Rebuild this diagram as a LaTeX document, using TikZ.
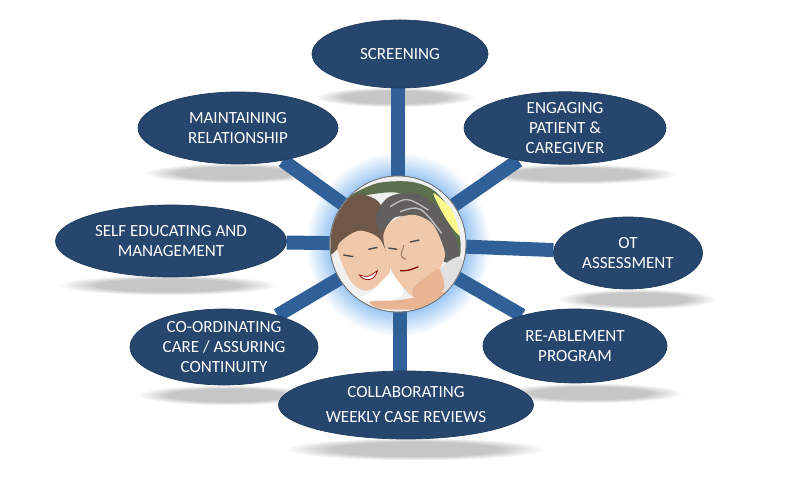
\documentclass[tikz,border=0pt]{standalone}
\usepackage{fontspec}
\setmainfont{Carlito}
\usetikzlibrary{shapes.geometric,fadings}
\definecolor{spotblue}{RGB}{38,70,109}
\definecolor{spokeblue}{RGB}{48,96,152}
\definecolor{glowblue}{RGB}{150,195,242}
\definecolor{shadowgray}{RGB}{198,198,198}
\definecolor{skinlight}{RGB}{240,200,170}
\definecolor{skinwarm}{RGB}{232,180,145}
\definecolor{hairbrown}{RGB}{112,88,72}
\definecolor{hairgray}{RGB}{98,96,94}
\definecolor{leafgreen}{RGB}{92,112,78}
\pgfdeclareradialshading{glowshade}{\pgfpointorigin}{color(0bp)=(glowblue); color(18bp)=(glowblue); color(25bp)=(white); color(50bp)=(white)}
\pgfdeclareradialshading{softshade}{\pgfpointorigin}{color(0bp)=(white); color(16bp)=(white); color(25bp)=(black); color(50bp)=(black)}
\pgfdeclarefading{softblur}{\pgfuseshading{softshade}}
\pgfdeclarelayer{shadows}
\pgfdeclarelayer{spokes}
\pgfsetlayers{shadows,spokes,main}
\tikzset{
	spot/.style 2 args={%
		draw=spotblue!85!black, ellipse, fill=spotblue, inner sep=0pt,
		minimum width=#1, minimum height=#2,
		align=center, text=white,
		font=\fontsize{9.7}{11.4}\selectfont
	},
	ground/.style 2 args={%
		fill=shadowgray, path fading=softblur,
		minimum width=#1, minimum height=#2, inner sep=0pt
	},
	spoke/.style={draw=spokeblue, line width=0.28cm}
}

\begin{document}
\begin{tikzpicture}
		\useasboundingbox (0,0) rectangle (15.72,9.58);
		
		% shadows under the ellipses
		\begin{pgfonlayer}{shadows}
		\node[ground={3.2cm}{0.4cm}] (sh1) at (7.9,7.64) {};
		\node[ground={3.6cm}{0.4cm}] (sh2) at (4.7,6.12) {};
		\node[ground={4.1cm}{0.4cm}] (sh3) at (11.5,6.1) {};
		\node[ground={4.4cm}{0.4cm}] (sh4) at (3.36,3.88) {};
		\node[ground={3.2cm}{0.4cm}] (sh5) at (12.74,3.6) {};
		\node[ground={3.6cm}{0.4cm}] (sh6) at (4.54,1.68) {};
		\node[ground={3.7cm}{0.4cm}] (sh7) at (11.8,1.72) {};
		\node[ground={5.2cm}{0.45cm}] (sh8) at (8.3,0.6) {};
		\node[circle,minimum size=3.7cm,inner sep=0pt,shading=glowshade] (glow) at (7.96,4.7) {};
		\end{pgfonlayer}
		
		% the ellipses
		\node[spot={3.52cm}{1.36cm}] (screening) at (8.0,8.5) {SCREENING};
		\node[spot={4cm}{1.44cm}] (relationship) at (4.76,7.02) {MAINTAINING\\RELATIONSHIP};
		\node[spot={4.04cm}{1.44cm}] (engaging) at (11.3,7.02) {ENGAGING\\PATIENT \&\\CAREGIVER};
		\node[spot={4.62cm}{1.44cm}] (selfedu) at (3.42,4.76) {SELF EDUCATING AND\\MANAGEMENT};
		\node[spot={2.98cm}{1.44cm}] (ot) at (12.56,4.52) {OT\\ASSESSMENT};
		\node[spot={3.76cm}{1.52cm}] (coordinating) at (4.48,2.64) {CO-ORDINATING\\CARE / ASSURING\\CONTINUITY};
		\node[spot={3.68cm}{1.48cm}] (reablement) at (11.5,2.66) {RE-ABLEMENT\\PROGRAM};
		\node[spot={5.1cm}{1.36cm},align=center] (reviews) at (8.12,1.48) {COLLABORATING\\[2.8pt]WEEKLY CASE REVIEWS};
		
		% the photo in the middle
		\node[circle,draw=black!55,fill=white,minimum size=2.72cm,inner sep=0pt] (photo) at (7.96,4.7) {};
		
		\begin{pgfonlayer}{spokes}
		\draw[spoke] (photo) -- (photo |- screening);
		\draw[spoke] (photo) -- (relationship);
		\draw[spoke] (photo) -- (engaging);
		\draw[spoke] (photo) -- (selfedu);
		\draw[spoke] (photo) -- (ot);
		\draw[spoke] (photo) -- (coordinating);
		\draw[spoke] (photo) -- (reablement);
		\draw[spoke] ([xshift=0.04cm]photo.center) -- ([xshift=0.04cm]photo |- reviews);
		\end{pgfonlayer}
		
		\begin{scope}
		\clip (photo.center) circle (1.35);
		\begin{scope}[shift={(6.0,6.38)},x=0.00667cm,y=-0.00667cm]
			\fill[black!6] (80,40) rectangle (510,470);
			% garden
			\fill[leafgreen] plot[smooth cycle] coordinates {(150,112) (230,70) (330,65) (400,90) (450,150) (480,235) (475,290) (420,200) (300,100)};
			\fill[yellow!45!white] plot[smooth cycle] coordinates {(400,100) (455,150) (478,225) (440,180)};
			% woman on the left
			\fill[hairbrown] plot[smooth cycle] coordinates {(92,280) (92,190) (120,130) (180,103) (235,125) (255,180) (268,320) (170,235) (115,265)};
			\fill[skinlight] plot[smooth cycle] coordinates {(113,270) (130,238) (180,212) (240,238) (270,325) (245,370) (195,392) (150,360)};
			% woman on the right
			\fill[hairgray] plot[smooth cycle] coordinates {(228,165) (265,112) (340,98) (410,140) (460,220) (478,288) (432,305) (380,190) (290,170) (245,215)};
			\draw[black!25,line width=0.8pt] (270,140) .. controls (320,110) .. (385,150) (300,155) .. controls (360,135) .. (425,220);
			\fill[white] plot[smooth cycle] coordinates {(215,395) (275,340) (310,400) (250,425) (170,420)};
			\fill[black!12] plot[smooth cycle] coordinates {(420,330) (478,290) (490,350) (440,400)};
			\fill[skinlight] plot[smooth cycle] coordinates {(250,225) (285,178) (345,165) (400,195) (435,280) (420,330) (430,390) (350,415) (300,370) (270,320)};
			\fill[skinwarm] plot[smooth cycle] coordinates {(340,385) (400,335) (420,330) (430,390) (350,415)};
			\fill[skinwarm] plot[smooth cycle] coordinates {(210,425) (300,420) (380,405) (435,395) (410,425) (340,448) (240,445)};
			% eyes and mouths
			\draw[black!70,line width=0.8pt] (130,285) -- (160,290) (205,268) -- (232,262) (265,264) -- (292,268) (330,246) -- (358,240);
			\draw[skinwarm!70!black,line width=0.6pt] (312,255) .. controls (300,290) .. (318,298);
			\fill[white,draw=red!55!black] (178,345) .. controls (205,352) .. (232,332) .. controls (225,362) and (195,368) .. cycle;
			\draw[red!50!black,line width=0.7pt] (300,332) .. controls (325,332) .. (355,320);
		\end{scope}
		\end{scope}
		\draw[black!55] (photo.center) circle (1.36);
		
\end{tikzpicture}
\end{document}
